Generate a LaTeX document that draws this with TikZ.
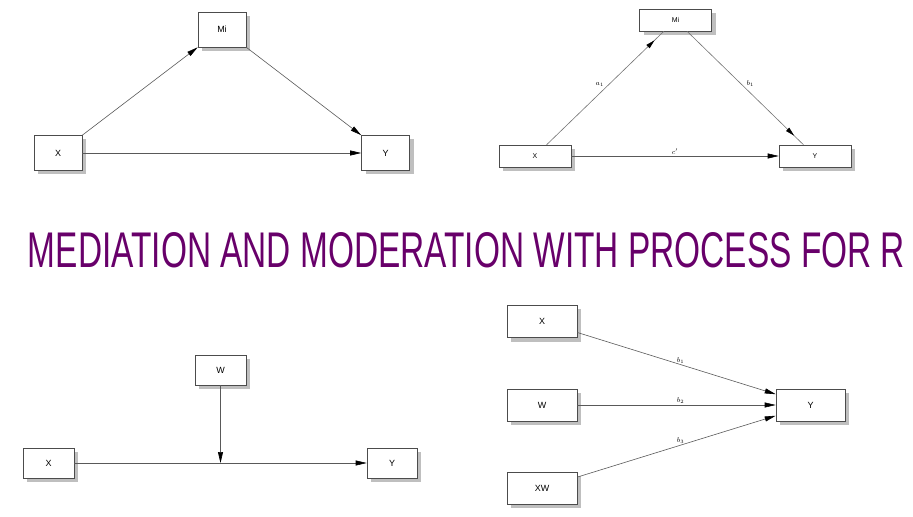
\documentclass[tikz,border=0pt]{standalone}
\usepackage{fontspec}
\usepackage{graphicx}
\setmainfont{Liberation Sans}
\newfontfamily\titlefont{Liberation Sans}
\usetikzlibrary{shadows,arrows.meta,decorations.markings}
\definecolor{titlepurple}{RGB}{104,0,106}

\begin{document}
\begin{tikzpicture}[x=1bp, y=-1bp,
			box_style/.style={draw=black!70, fill=white, line width=0.6bp, inner sep=0pt,
				minimum width=48bp, minimum height=35bp, font=\fontsize{9}{10}\selectfont,
				drop shadow={shadow xshift=4bp, shadow yshift=-4bp, opacity=1, fill=black!25}},
			small_box/.style={box_style, minimum width=72bp, minimum height=22bp, font=\fontsize{7}{8}\selectfont},
			edge_style/.style={draw=black!65, line width=0.6bp, -{Triangle[length=11bp, width=5bp, color=black]}},
			mid_arrow/.style={draw=black!55, line width=0.6bp, postaction={decorate},
				decoration={markings, mark=at position -13bp with {\arrow[black]{Triangle[length=9bp, width=4.5bp]}}}},
			coef_style/.style={font=\fontsize{7}{7}\selectfont, inner sep=1bp}]
			\useasboundingbox (0,0) rectangle (913,517);
			
			% simple mediation
			\node[box_style] (m1) at (222,29.5) {Mi};
			\node[box_style] (x1) at (58,153) {X};
			\node[box_style] (y1) at (385.5,153) {Y};
			\draw[edge_style] (x1.north east) -- (m1.south west);
			\draw[edge_style] (m1.south east) -- (y1.north west);
			\draw[edge_style] (x1) -- (y1);
			
			% mediation with paths
			\node[small_box] (m2) at (675.5,20) {Mi};
			\node[small_box] (x2) at (535,156) {X};
			\node[small_box] (y2) at (815,156) {Y};
			\draw[mid_arrow] (x2) -- node[coef_style, above left, pos=0.5] {$a_1$} (m2);
			\draw[mid_arrow] (m2) -- node[coef_style, above right, pos=0.5] {$b_1$} (y2);
			\draw[edge_style] (x2) -- node[coef_style, above, pos=0.5] {$c'$} (y2);
			
			% title
			\node[text=titlepurple, inner sep=0pt] (title) at (466.5,250)
				{\resizebox{877bp}{35bp}{\titlefont MEDIATION AND MODERATION WITH PROCESS FOR R}};
			
			% simple moderation
			\node[box_style, minimum width=51bp, minimum height=30bp] (w3) at (220.5,370) {W};
			\node[box_style, minimum width=51bp, minimum height=30bp] (x3) at (48.5,463) {X};
			\node[box_style, minimum width=50bp, minimum height=30bp] (y3) at (392,463) {Y};
			\coordinate (j3) at (w3 |- x3);
			\draw[edge_style] (x3) -- (y3);
			\draw[edge_style] (w3) -- (j3);
			
			% moderation as regression
			\foreach \n/\t/\y in {x4/X/321.5, w4/W/405, xw4/XW/488}{
				\node[box_style, minimum width=70bp, minimum height=32bp] (\n) at (542,\y) {\t};
			}
			\node[box_style, minimum width=69bp, minimum height=32bp] (y4) at (810.5,405) {Y};
			\foreach \n/\k in {x4/1, w4/2, xw4/3}{
				\draw[edge_style] (\n) -- node[coef_style, above, pos=0.52] {$b_\k$} (y4);
			}
		\end{tikzpicture}
\end{document}
